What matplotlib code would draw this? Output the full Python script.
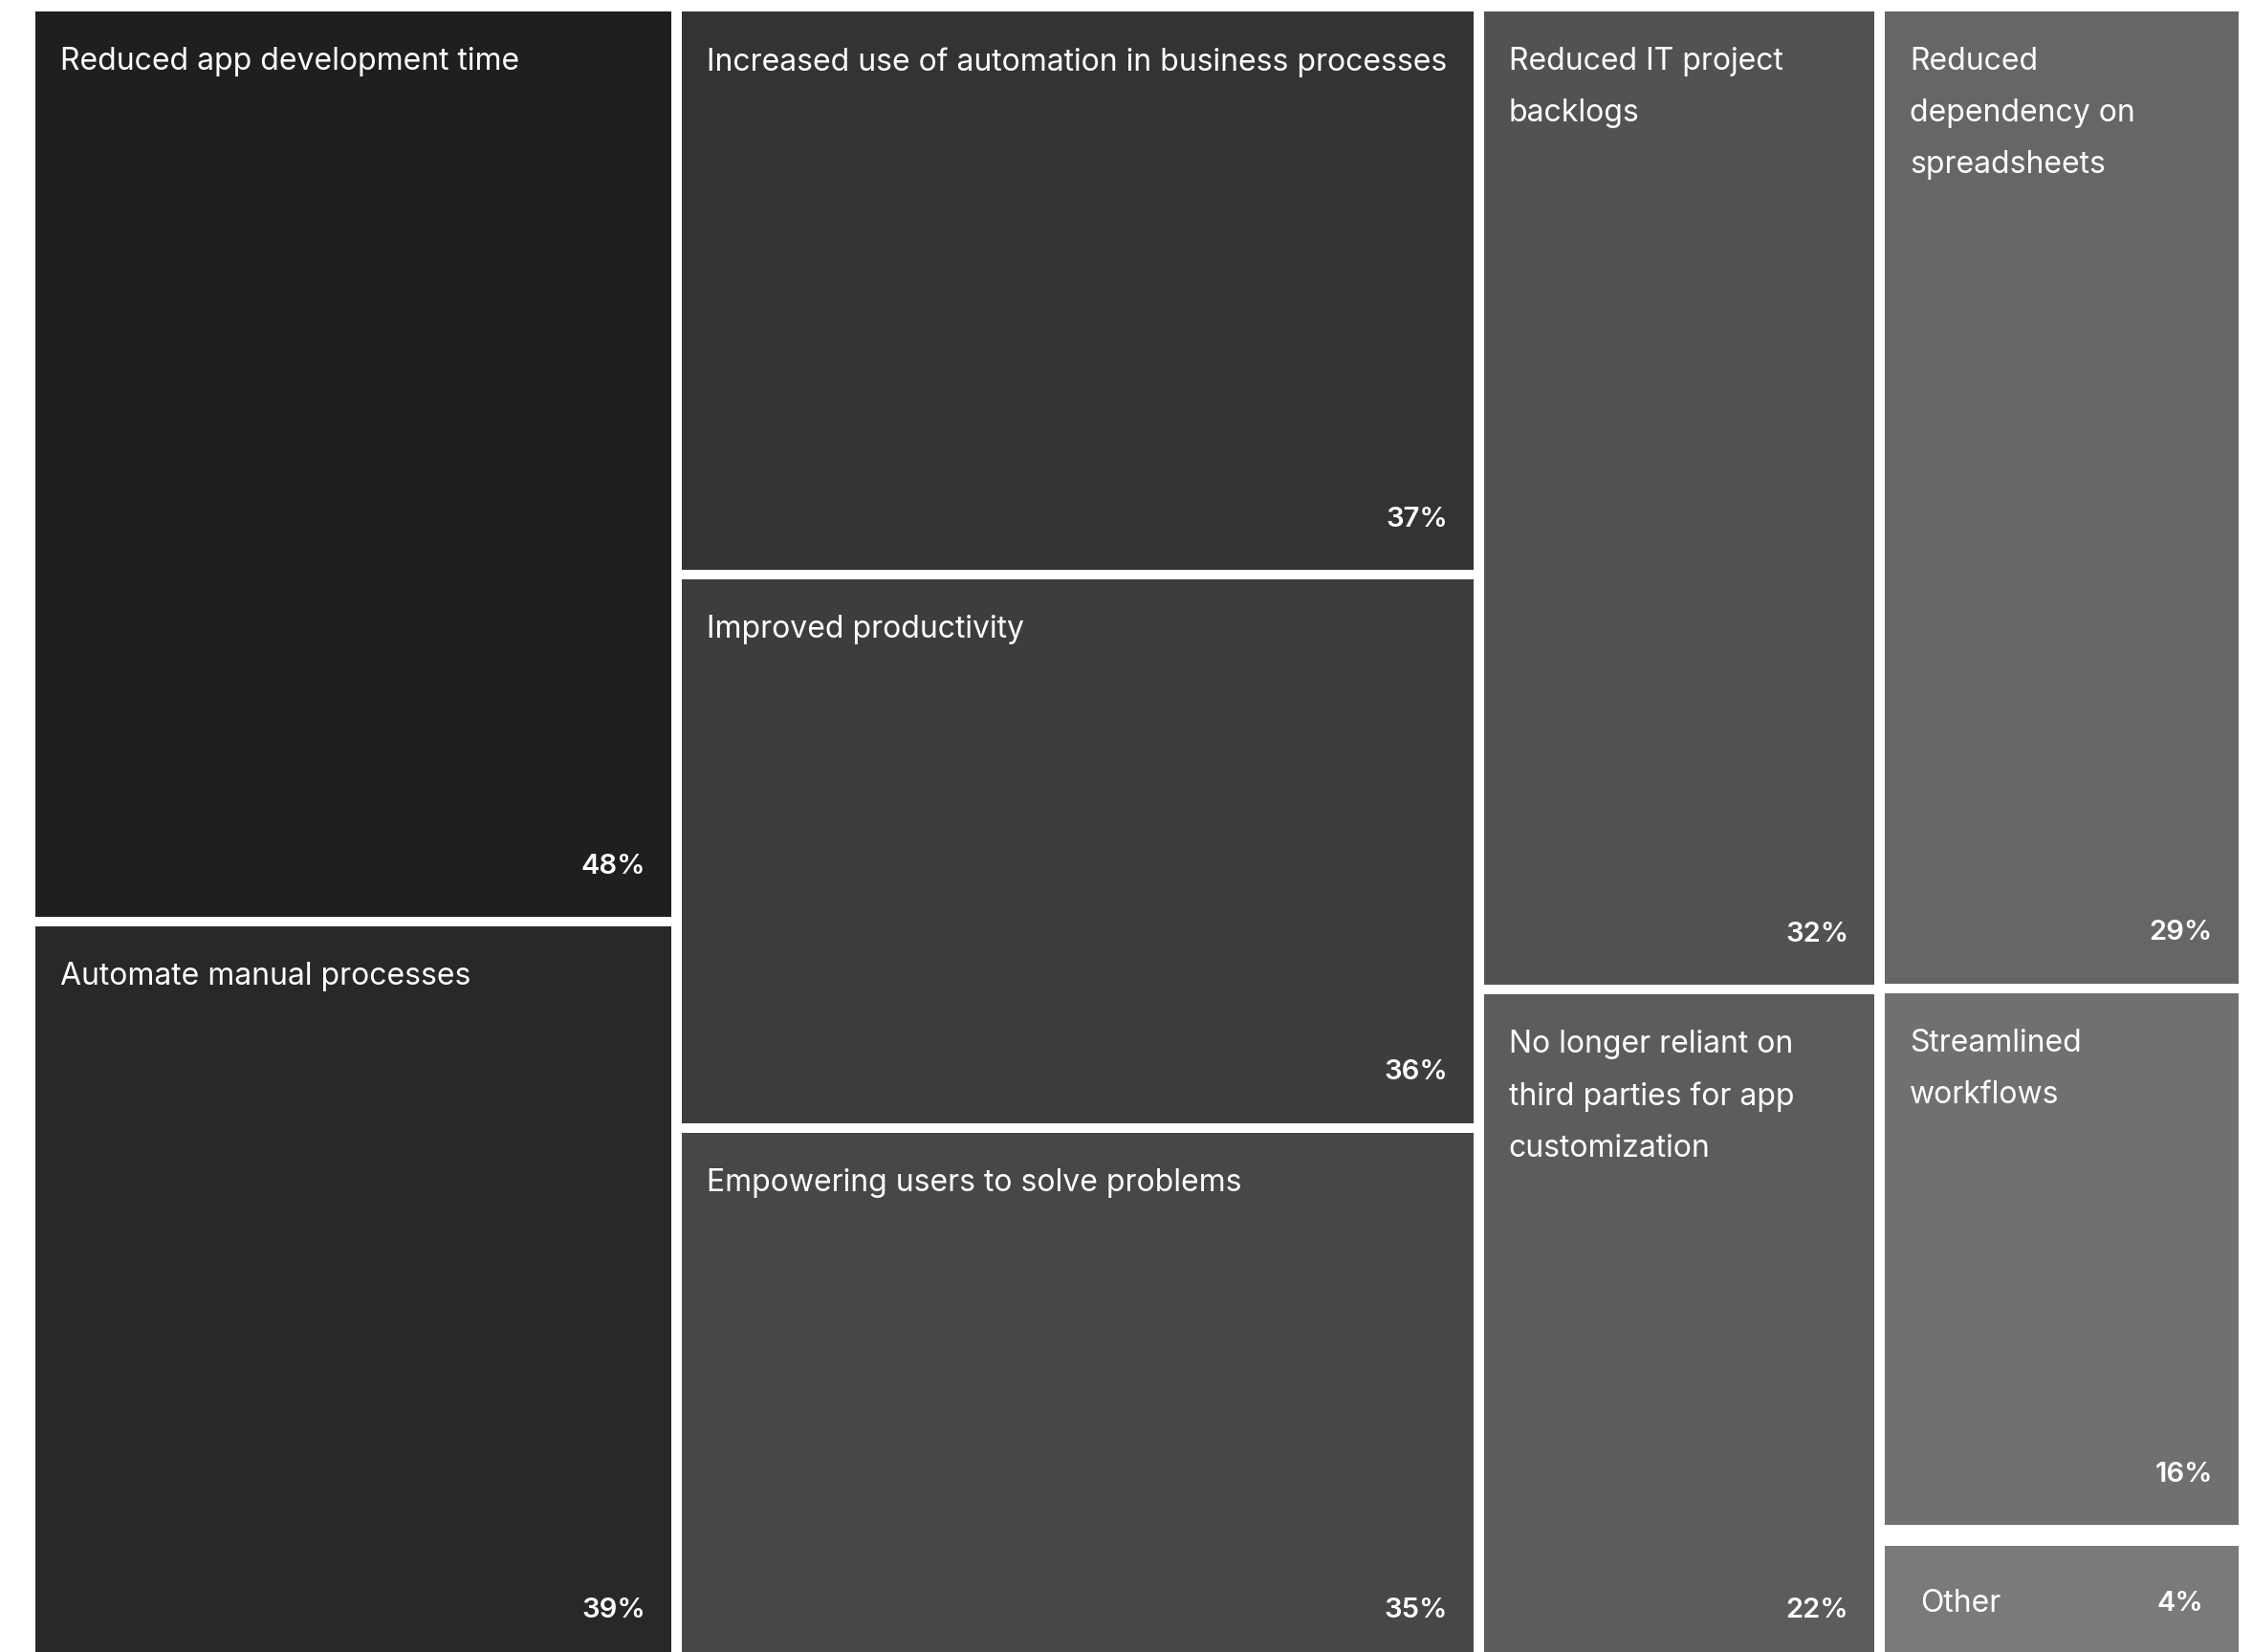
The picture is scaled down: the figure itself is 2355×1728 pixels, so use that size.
import matplotlib.pyplot as plt
from matplotlib.patches import Rectangle

labels = [
    "Reduced app development time",
    "Automate manual processes",
    "Increased use of automation in business processes",
    "Improved productivity",
    "Empowering users to solve problems",
    "Reduced IT project\nbacklogs",
    "No longer reliant on\nthird parties for app\ncustomization",
    "Reduced\ndependency on\nspreadsheets",
    "Streamlined\nworkflows",
    "Other",
]
values = [48, 39, 37, 36, 35, 32, 22, 29, 16, 4]
column = [0, 0, 1, 1, 1, 2, 2, 3, 3, 3]
colors = ["#1f1f1f", "#282828", "#333333", "#3d3d3d", "#474747",
          "#525252", "#5c5c5c", "#666666", "#707070", "#7a7a7a"]

W, H = 2355, 1728
fig = plt.figure(figsize=(W / 100, H / 100), dpi=100)
fig.patch.set_facecolor("white")

# treemap area in pixels (bottom runs off the canvas like the original)
left_px, top_px, area_w, area_h = 37, 12, 2315, 1735
ax = fig.add_axes([left_px / W, 1 - (top_px + area_h) / H, area_w / W, area_h / H])
total = sum(values)
ax.set_xlim(0, total)
ax.set_ylim(1, 0)
ax.axis("off")

gx = 11 / area_w * total
gy = 10 / area_h
px = 72 / 100  # pixels -> points

x0 = 0
for c in sorted(set(column)):
    idx = [i for i in range(len(values)) if column[i] == c]
    csum = sum(values[i] for i in idx)
    y0 = 0
    for i in idx:
        h = values[i] / csum
        extra = 12 / area_h if labels[i] == "Other" else 0
        ax.add_patch(Rectangle((x0, y0 + extra), csum - gx, h - gy - extra,
                               facecolor=colors[i], edgecolor="none"))
        if labels[i] == "Other":
            yc = y0 + extra + (h - gy - extra) / 2
            ax.annotate(labels[i], (x0, yc), xytext=(37 * px, 0), textcoords="offset points",
                        ha="left", va="center", color="white", fontsize=23, family="Inter")
            ax.annotate(f"{values[i]}%", (x0 + csum - gx, yc), xytext=(-37 * px, 0),
                        textcoords="offset points", ha="right", va="center",
                        color="white", fontsize=21, family="Inter", weight="semibold")
        else:
            ax.annotate(labels[i], (x0, y0), xytext=(26 * px, -37 * px), textcoords="offset points",
                        ha="left", va="top", color="white", fontsize=23, family="Inter",
                        linespacing=1.95)
            ax.annotate(f"{values[i]}%", (x0 + csum - gx, y0 + h - gy), xytext=(-27 * px, 53 * px),
                        textcoords="offset points", ha="right", va="center",
                        color="white", fontsize=21, family="Inter", weight="semibold")
        y0 += h
    x0 += csum

fig.savefig("out.png", dpi=100, facecolor="white")
